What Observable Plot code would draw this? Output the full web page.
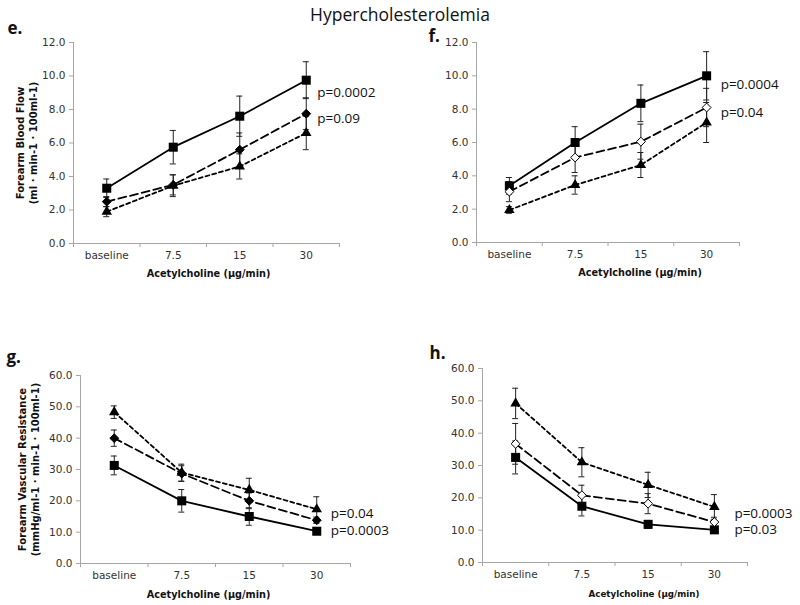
<!DOCTYPE html>
<html><head><meta charset="utf-8">
<script src="https://cdn.jsdelivr.net/npm/d3@7"></script>
<script src="https://cdn.jsdelivr.net/npm/@observablehq/plot@0.6"></script>
<style>
body{margin:0;background:#fff;}
#wrap{position:relative;width:800px;height:605px;overflow:hidden;background:#fff;}
#title{position:absolute;left:0;top:3px;width:800px;text-align:center;font-family:"Open Sans";font-size:17.5px;line-height:22px;color:#111;}
.panel{position:absolute;}
</style></head><body>
<div id="wrap"><div id="title">Hypercholesterolemia</div></div>
<script>
// ---- data ----
const categories = ["baseline", "7.5", "15", "30"];

// panel e (Forearm Blood Flow)
const eSquare = [3.3, 5.75, 7.6, 9.75];
const eSquareErr = [0.55, 1.0, 1.2, 1.1];
const eDiamond = [2.5, 3.5, 5.6, 7.75];
const eDiamondErr = [0.3, 0.6, 1.0, 0.95];
const eTriangle = [1.9, 3.45, 4.6, 6.6];
const eTriangleErr = [0.3, 0.65, 0.75, 1.0];
const ePLabels = ["p=0.0002", "p=0.09"];
const ePY = [9.0, 7.45];

// panel f
const fSquare = [3.4, 6.0, 8.35, 10.0];
const fSquareErr = [0.5, 0.95, 1.1, 1.45];
const fDiamond = [3.05, 5.1, 6.05, 8.1];
const fDiamondErr = [0.6, 0.9, 1.05, 1.15];
const fTriangle = [1.95, 3.45, 4.65, 7.2];
const fTriangleErr = [0.2, 0.55, 0.75, 1.2];
const fPLabels = ["p=0.0004", "p=0.04"];
const fPY = [9.45, 7.8];

// panel g (Forearm Vascular Resistance)
const gSquare = [31.3, 20.0, 15.0, 10.3];
const gSquareErr = [3.0, 3.6, 2.8, 0.6];
const gDiamond = [40.0, 28.7, 20.0, 13.8];
const gDiamondErr = [2.6, 2.5, 2.5, 1.0];
const gTriangle = [48.3, 29.0, 23.5, 17.3];
const gTriangleErr = [2.0, 2.7, 3.7, 4.0];
const gPLabels = ["p=0.04", "p=0.0003"];
const gPY = [15.9, 10.5];

// panel h
const hSquare = [32.5, 17.4, 11.8, 10.1];
const hSquareErr = [5.1, 3.0, 1.2, 0.8];
const hDiamond = [36.7, 20.8, 18.2, 12.5];
const hDiamondErr = [6.3, 3.1, 3.1, 1.5];
const hTriangle = [49.2, 31.0, 24.0, 17.2];
const hTriangleErr = [4.7, 4.5, 3.9, 3.8];
const hPLabels = ["p=0.0003", "p=0.03"];
const hPY = [15.2, 10.0];

const flowTicks = [0, 2, 4, 6, 8, 10, 12];
const resTicks = [0, 10, 20, 30, 40, 50, 60];
const xTitle = "Acetylcholine (µg/min)";

// ---- drawing ----
const AX = "#a6a6a6";
function panel(c) {
  const rows = (vals, errs) => vals.map((v, i) => ({i, v, e: errs[i]}));
  const S = rows(c.square, c.squareErr), D = rows(c.diamond, c.diamondErr), T = rows(c.triangle, c.triangleErr);
  const all = [...S, ...D, ...T];
  const idx = categories.map((_, k) => k);
  const bounds = d3.range(categories.length + 1).map(k => k - 0.5);
  const last = categories.length - 1;
  const marks = [
    Plot.ruleY([c.yDomain[0]], {stroke: AX, strokeWidth: 1}),
    Plot.ruleX([bounds[0]], {stroke: AX, strokeWidth: 1}),
    Plot.axisY({ticks: c.yTicks, tickFormat: d3.format(".1f"), tickSize: 4, tickPadding: 4, stroke: AX, fill: "#333", fontSize: 10.5, label: null}),
    Plot.axisX({ticks: idx, tickFormat: k => categories[k], tickSize: 0, tickPadding: 8, fill: "#333", fontSize: 10.5, label: null}),
    Plot.axisX({ticks: bounds, tickFormat: () => "", tickSize: 4, stroke: AX, label: null}),
    Plot.line(S, {x: "i", y: "v", stroke: "black", strokeWidth: 1.8}),
    Plot.line(D, {x: "i", y: "v", stroke: "black", strokeWidth: 1.8, strokeDasharray: "8,4"}),
    Plot.line(T, {x: "i", y: "v", stroke: "black", strokeWidth: 1.8, strokeDasharray: "4,3"}),
    Plot.ruleX(all, {x: "i", y1: d => d.v - d.e, y2: d => d.v + d.e, stroke: "#222", strokeWidth: 1}),
    Plot.ruleY(all, {y: d => d.v + d.e, x1: "i", x2: "i", insetLeft: -3, insetRight: -3, stroke: "#222", strokeWidth: 1}),
    Plot.ruleY(all, {y: d => d.v - d.e, x1: "i", x2: "i", insetLeft: -3, insetRight: -3, stroke: "#222", strokeWidth: 1}),
    Plot.dot(S, {x: "i", y: "v", symbol: "square", r: 5.1, fill: "black"}),
    Plot.dot(D, {x: "i", y: "v", symbol: "diamond2", r: 4, fill: c.openDiamond ? "white" : "black", stroke: "black", strokeWidth: 1}),
    Plot.dot(T, {x: "i", y: "v", symbol: "triangle", r: 3.9, fill: "black"}),
    Plot.text(c.pLabels, {x: () => last, y: (d, k) => c.pY[k], text: d => d, dx: c.pDx, textAnchor: "start", fontSize: 13.5, fontFamily: "Open Sans", fill: "#111"}),
    Plot.text([c.letter], {frameAnchor: "top-left", dx: c.letterDx, dy: c.letterDy, textAnchor: "start", lineAnchor: "middle", fontWeight: "bold", fontSize: 17, fontFamily: "Open Sans", fill: "#111"}),
    Plot.text([xTitle], {frameAnchor: "bottom", dx: c.xTitleDx, dy: c.xTitleDy, textAnchor: "middle", lineAnchor: "middle", fontWeight: "bold", fontSize: c.xTitleSize, fill: "#111"})
  ];
  if (c.yTitle) marks.push(Plot.text([c.yTitle], {frameAnchor: "left", rotate: -90, dx: c.yTitleDx, textAnchor: "middle", lineAnchor: "middle", lineHeight: 1.3, fontWeight: "bold", fontSize: 10, fill: "#111"}));
  const svg = Plot.plot({
    width: c.width, height: c.height,
    marginTop: c.m[0], marginRight: c.m[1], marginBottom: c.m[2], marginLeft: c.m[3],
    x: {type: "linear", domain: [bounds[0], bounds[bounds.length - 1]], label: null},
    y: {domain: c.yDomain, label: null},
    style: {background: "transparent", overflow: "visible", fontFamily: "DejaVu Sans", fontSize: "10.5px", color: "#333"},
    marks
  });
  const div = document.createElement("div");
  div.className = "panel";
  div.style.left = c.left + "px";
  div.style.top = c.top + "px";
  div.appendChild(svg);
  document.getElementById("wrap").appendChild(div);
}

panel({left: 0, top: 0, width: 400, height: 300, m: [42, 61, 57, 73], yDomain: [0, 12], yTicks: flowTicks,
  square: eSquare, squareErr: eSquareErr, diamond: eDiamond, diamondErr: eDiamondErr, triangle: eTriangle, triangleErr: eTriangleErr,
  openDiamond: false, pLabels: ePLabels, pY: ePY, pDx: 11, letter: "e.", letterDx: -66, letterDy: -14,
  xTitleDx: 2, xTitleDy: 30, xTitleSize: 9.7, yTitle: "Forearm Blood Flow\n(ml · min-1 · 100ml-1)", yTitleDx: -47});

panel({left: 400, top: 0, width: 400, height: 300, m: [42, 61, 58, 76], yDomain: [0, 12], yTicks: flowTicks,
  square: fSquare, squareErr: fSquareErr, diamond: fDiamond, diamondErr: fDiamondErr, triangle: fTriangle, triangleErr: fTriangleErr,
  openDiamond: true, pLabels: fPLabels, pY: fPY, pDx: 14, letter: "f.", letterDx: -48, letterDy: -6,
  xTitleDx: 32, xTitleDy: 30, xTitleSize: 9.7});

panel({left: 0, top: 300, width: 400, height: 305, m: [75, 50, 42, 80], yDomain: [0, 60], yTicks: resTicks,
  square: gSquare, squareErr: gSquareErr, diamond: gDiamond, diamondErr: gDiamondErr, triangle: gTriangle, triangleErr: gTriangleErr,
  openDiamond: false, pLabels: gPLabels, pY: gPY, pDx: 14, letter: "g.", letterDx: -74, letterDy: -18,
  xTitleDx: -7, xTitleDy: 31, xTitleSize: 9.7, yTitle: "Forearm Vascular Resistance\n(mmHg/ml-1 · min-1 · 100ml-1)", yTitleDx: -52.5});

panel({left: 400, top: 300, width: 400, height: 305, m: [68, 53, 43, 82], yDomain: [0, 60], yTicks: resTicks,
  square: hSquare, squareErr: hSquareErr, diamond: hDiamond, diamondErr: hDiamondErr, triangle: hTriangle, triangleErr: hTriangleErr,
  openDiamond: true, pLabels: hPLabels, pY: hPY, pDx: 20, letter: "h.", letterDx: -53, letterDy: -15,
  xTitleDx: 29, xTitleDy: 32, xTitleSize: 8.7});
</script>
</body></html>
